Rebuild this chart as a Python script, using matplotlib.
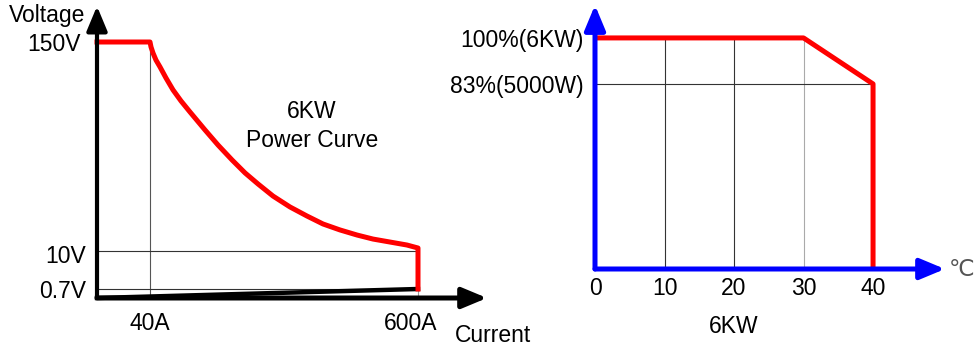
import numpy as np
import matplotlib.pyplot as plt
from matplotlib.transforms import ScaledTranslation

plt.rcParams['font.family'] = ['Liberation Sans', 'DejaVu Sans']
plt.rcParams['font.size'] = 16.5

# Левый график: кривая мощности 6KW (ток, напряжение)
curve_I = [0, 40, 42.1, 46.3, 52.5, 60.9, 73.4, 88.1, 104.8, 123.6, 154.9, 182.1,
           211.4, 238.6, 265.7, 297.1, 332.5, 368.2, 401.5, 437.0, 472.6, 506.0,
           541.5, 577.0, 600, 600]
curve_V = [150, 150, 146.7, 142.6, 137.9, 133.3, 125.9, 117.9, 110.5, 103.1, 91.1, 81.0,
           71.0, 62.3, 54.9, 46.8, 39.5, 33.4, 28.1, 24.1, 20.7, 18.0,
           16.0, 14.0, 12.0, 0.7]
i_ticks = [40, 600]
i_labels = ['40A', '600A']
v_ticks = [0.7, 10, 150]
v_labels = ['0.7V', '10V', '150V']

# Правый график: снижение мощности от температуры
temp = [0, 30, 40, 40]
power = [100, 100, 83, 0]
t_ticks = [0, 10, 20, 30, 40]
p_ticks = [83, 100]
p_labels = ['83%(5000W)', '100%(6KW)']

# схематичная (нелинейная) шкала левого графика
knots_I, frac_I = [0, 40, 600], [0, 53 / 321, 1]
knots_V, frac_V = [0, 0.7, 10, 150], [0, 9 / 256, 47 / 256, 1]


def fwd_I(x):
    return np.interp(x, knots_I, frac_I)


def inv_I(x):
    return np.interp(x, frac_I, knots_I)


def fwd_V(y):
    return np.interp(y, knots_V, frac_V)


def inv_V(y):
    return np.interp(y, frac_V, knots_V)


def arrow(ax, tip, color, lw):
    ax.annotate('', xy=tip, xytext=(0, 0), xycoords='axes fraction',
                arrowprops=dict(arrowstyle='-|>,head_length=0.6,head_width=0.25',
                                mutation_scale=25, color=color, lw=lw,
                                shrinkA=0, shrinkB=0),
                annotation_clip=False, zorder=5)


def nudge(label, dx, dy):
    # сдвиг подписи в пикселях
    label.set_transform(label.get_transform() +
                        ScaledTranslation(dx / 100, -dy / 100, fig.dpi_scale_trans))


fig = plt.figure(figsize=(9.77, 3.47), dpi=100)

# График 1
ax1 = fig.add_axes([97 / 977, 49 / 347, 321 / 977, 256 / 347])
ax1.set_xscale('function', functions=(fwd_I, inv_I))
ax1.set_yscale('function', functions=(fwd_V, inv_V))
ax1.set_xlim(0, 600)
ax1.set_ylim(0, 150)
for s in ax1.spines.values():
    s.set_visible(False)

ax1.plot([i_ticks[0]] * 2, [0, v_ticks[-1]], color='#555555', lw=0.8, clip_on=False)
ax1.hlines(v_ticks[:2], 0, i_ticks[-1], color='#333333', lw=0.8, clip_on=False)
ax1.plot([i_ticks[-1]] * 2, [0, v_ticks[0]], color='#999999', lw=0.8, clip_on=False)
ax1.plot([0, i_ticks[-1]], [0, v_ticks[0]], color='black', lw=3.2, clip_on=False)
ax1.plot(curve_I, curve_V, color='#ff0000', lw=3.6, clip_on=False, zorder=3)

arrow(ax1, (0, 1.14), 'black', 3.0)
arrow(ax1, (1.215, 0), 'black', 3.6)

ax1.set_xticks(i_ticks, i_labels)
ax1.set_yticks(v_ticks, v_labels)
ax1.tick_params(axis='x', length=0, pad=10)
ax1.tick_params(axis='y', length=0, pad=8)
ax1.minorticks_off()
xl = ax1.get_xticklabels()
yl = ax1.get_yticklabels()
nudge(xl[1], -7, 0)
nudge(yl[1], 0, 3)
nudge(yl[2], -5, 0)

ax1.text(-0.037, 1.078, 'Voltage', ha='right', va='baseline', transform=ax1.transAxes)
ax1.text(1.115, -0.172, 'Current', ha='left', va='baseline', transform=ax1.transAxes)
ax1.text(0.67, 0.703, '6KW', ha='center', va='baseline', transform=ax1.transAxes)
ax1.text(0.67, 0.59, 'Power Curve', ha='center', va='baseline', transform=ax1.transAxes)

# График 2
ax2 = fig.add_axes([595 / 977, 78 / 347, 285 / 977, 244.6 / 347])
ax2.set_xlim(0, 41)
ax2.set_ylim(14.6, 105)
for s in ax2.spines.values():
    s.set_visible(False)

ax2.vlines(t_ticks[1:3], 0, p_ticks[-1], color='#333333', lw=0.8)
ax2.vlines(t_ticks[3], 0, p_ticks[-1], color='#aaaaaa', lw=0.8)
ax2.hlines(p_ticks[0], 0, t_ticks[-1], color='#333333', lw=0.8)
ax2.plot(temp, power, color='#ff0000', lw=3.6, zorder=3)

arrow(ax2, (0, 1.079), '#0000ff', 3.6)
arrow(ax2, (1.228, 0), '#0000ff', 3.6)

ax2.set_xticks(t_ticks)
ax2.set_yticks(p_ticks, p_labels)
ax2.tick_params(axis='x', length=0, pad=6)
ax2.tick_params(axis='y', length=0, pad=8)

ax2.text(1.288, 0, '℃', ha='center', va='center', color='#555555',
         transform=ax2.transAxes)
ax2.text(t_ticks[2], -0.262, '6KW', ha='center', va='baseline',
         transform=ax2.get_xaxis_transform())

fig.savefig('out.png', dpi=100)
